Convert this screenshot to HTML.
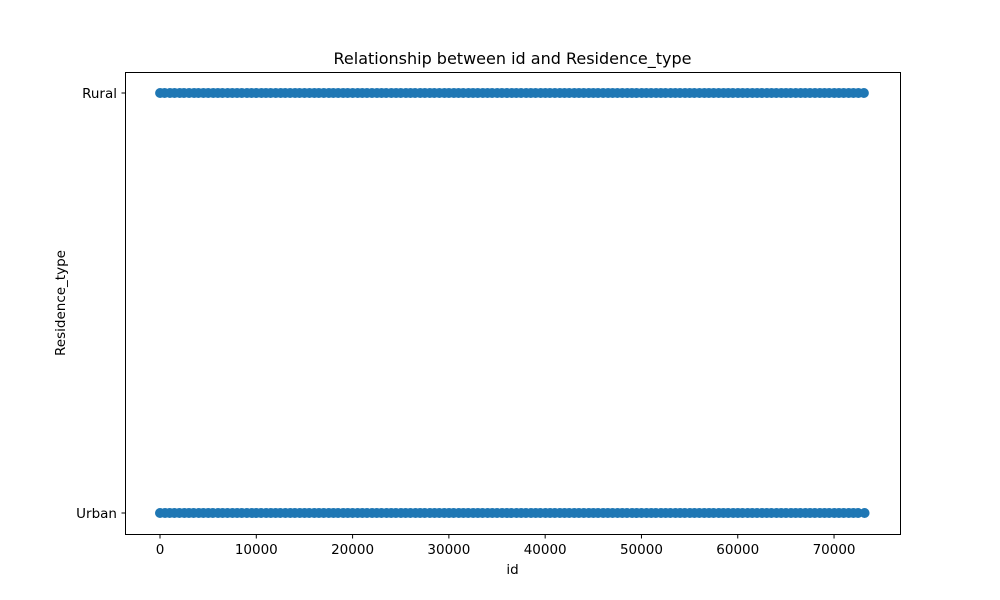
<!DOCTYPE html>
<html><head><meta charset="utf-8"><style>
body{margin:0;background:#fff;}
svg{display:block;font-family:"DejaVu Sans","Liberation Sans",sans-serif;}
</style></head><body>
<svg id="chart" width="1000" height="600" viewBox="0 0 1000 600">
<rect width="1000" height="600" fill="#fff"/>
<text x="512.5" y="64" text-anchor="middle" font-size="16">Relationship between id and Residence_type</text>
<g id="marks"></g>
<rect x="125.5" y="72.5" width="775" height="462" fill="none" stroke="#000" stroke-width="1"/>
<g id="xticks"></g><g id="yticks"></g>
<text x="512.5" y="574" text-anchor="middle" font-size="13.5">id</text>
<text transform="translate(65,303) rotate(-90)" text-anchor="middle" font-size="13.5">Residence_type</text>
</svg>
<script>
const categories = ["Urban", "Rural"];
const xTickValues = [0, 10000, 20000, 30000, 40000, 50000, 60000, 70000];
const ruralIds = [9,480,1033,1512,2047,2490,3021,3544,3990,4512,5008,5530,6011,6488,7023,7511,8004,8495,9032,9507,10011,10534,11002,11490,12017,12533,13004,13512,14026,14489,15008,15521,16033,16497,17012,17540,18003,18506,19021,19492,20010,20533,21007,21494,22016,22531,23009,23488,24024,24517,25002,25536,26011,26490,27025,27503,28019,28488,29012,29539,30006,30521,31002,31497,32033,32510,33001,33524,34013,34492,35020,35507,36011,36533,37002,37496,38025,38510,39004,39532,40018,40491,41007,41523,42010,42498,43031,43512,44006,44527,45003,45490,46021,46534,47008,47502,48016,48529,49011,49494,50027,50508,51003,51520,52014,52497,53030,53511,54002,54526,55009,55493,56022,56535,57006,57500,58017,58528,59012,59495,60024,60509,61004,61521,62013,62499,63028,63511,64003,64524,65010,65496,66021,66532,67007,67502,68018,68527,69011,69493,70025,70508,71002,71522,72014,72530,73100];
const urbanIds = [0,521,1004,1497,2012,2530,3008,3491,4025,4506,5013,5488,6030,6502,7007,7526,8011,8493,9020,9535,10003,10498,11024,11512,12006,12491,13021,13530,14003,14517,15012,15494,16026,16508,17004,17527,18015,18492,19031,19506,20002,20524,21013,21497,22028,22510,23001,23529,24010,24495,25022,25507,26006,26531,27012,27490,28027,28514,29003,29522,30017,30495,31028,31509,32007,32526,33013,33498,34024,34511,35004,35529,36016,36490,37023,37508,38002,38530,39017,39495,40028,40512,41001,41525,42013,42497,43022,43506,44014,44533,45009,45494,46027,46511,47003,47520,48010,48496,49030,49507,50004,50525,51016,51492,52029,52513,53002,53528,54011,54497,55025,55506,56008,56523,57019,57491,58031,58510,59002,59527,60014,60498,61029,61507,62003,62524,63012,63495,64026,64511,65007,65530,66014,66497,67025,67508,68003,68526,69016,69494,70030,70511,71004,71528,72012,72497,73170];
const xMin = -3635, xMax = 76850, pxL = 125, pxR = 900;
function xs(v){ return pxL + (v - xMin) / (xMax - xMin) * (pxR - pxL); }
const yPos = {Urban: 513, Rural: 93};
function ys(c){ return yPos[c]; }
const NS = "http://www.w3.org/2000/svg";
const marks = document.getElementById('marks');
function plot(ids, cat){
  ids.forEach(v => {
    const c = document.createElementNS(NS, 'circle');
    c.setAttribute('cx', xs(v)); c.setAttribute('cy', ys(cat)); c.setAttribute('r', 5);
    c.setAttribute('fill', '#1f77b4');
    
    
    marks.appendChild(c);
  });
}
plot(ruralIds, 'Rural');
plot(urbanIds, 'Urban');
const xt = document.getElementById('xticks');
xTickValues.forEach(v => {
  const x = xs(v);
  const l = document.createElementNS(NS, 'line');
  l.setAttribute('x1', x); l.setAttribute('x2', x); l.setAttribute('y1', 534.5); l.setAttribute('y2', 538.5);
  l.setAttribute('stroke', '#000');
  
  
  xt.appendChild(l);
  const t = document.createElementNS(NS, 'text');
  t.setAttribute('x', x); t.setAttribute('y', 554); t.setAttribute('text-anchor', 'middle'); t.setAttribute('font-size', '13.5');
  t.textContent = v;
  
  
  xt.appendChild(t);
});
const yt = document.getElementById('yticks');
categories.forEach(c => {
  const y = ys(c);
  const l = document.createElementNS(NS, 'line');
  l.setAttribute('x1', 121.5); l.setAttribute('x2', 125.5); l.setAttribute('y1', y); l.setAttribute('y2', y);
  l.setAttribute('stroke', '#000');
  
  
  yt.appendChild(l);
  const t = document.createElementNS(NS, 'text');
  t.setAttribute('x', 117); t.setAttribute('y', y + 5); t.setAttribute('text-anchor', 'end'); t.setAttribute('font-size', '13.5');
  t.textContent = c;
  
  
  yt.appendChild(t);
});
</script>
</body></html>
